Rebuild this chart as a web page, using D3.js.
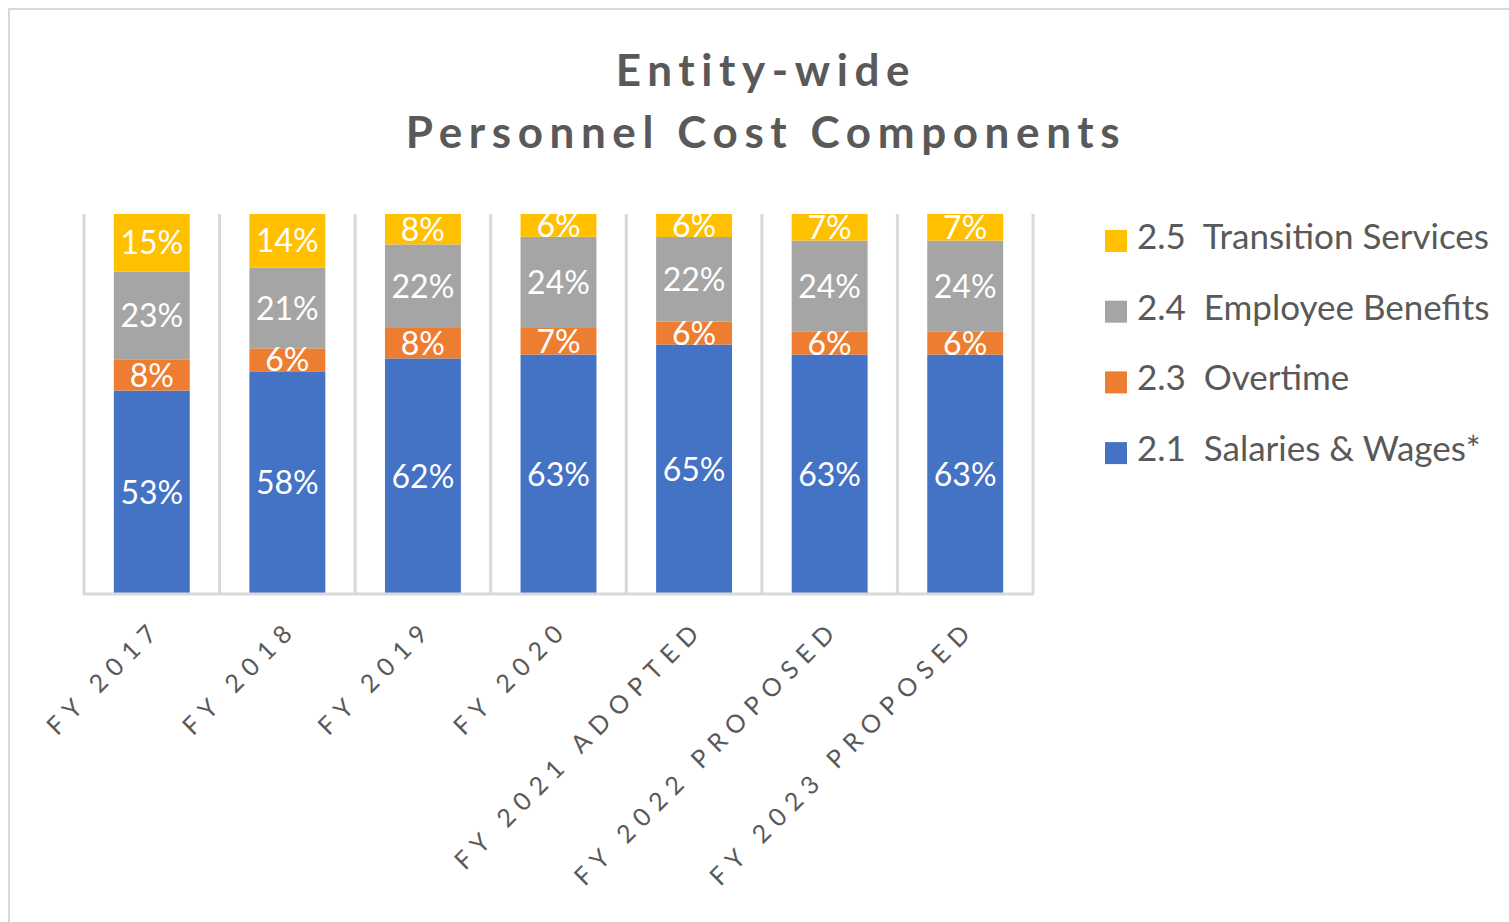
<!DOCTYPE html>
<meta charset="utf-8">
<title>Entity-wide Personnel Cost Components</title>
<style>
body { margin: 0; background: #fff; }
text { font-family: Lato, "Open Sans", sans-serif; }
.grid line { stroke: #d9d9d9; stroke-width: 3; }
.tick-label { fill: #595959; font-size: 25px; letter-spacing: 8.2px; }
.seg-label { fill: #fff; font-size: 32px; }
.legend text { fill: #595959; font-size: 35px; white-space: pre; }
.title { fill: #595959; font-size: 44px; font-weight: bold; letter-spacing: 6.6px; }
</style>
<body>
<svg width="1509" height="922"></svg>
<script src="https://cdn.jsdelivr.net/npm/d3@7"></script>
<script>

var categories = ["FY 2017", "FY 2018", "FY 2019", "FY 2020", "FY 2021 ADOPTED", "FY 2022 PROPOSED", "FY 2023 PROPOSED"];
var seriesNames = ["2.1  Salaries & Wages*", "2.3  Overtime", "2.4  Employee Benefits", "2.5  Transition Services"];
var salaries   = [53, 58, 62, 63, 65, 63, 63];
var overtime   = [8, 6, 8, 7, 6, 6, 6];
var benefits   = [23, 21, 22, 24, 22, 24, 24];
var transition = [15, 14, 8, 6, 6, 7, 7];
var colors = ["#4472c4", "#ed7d31", "#a5a5a5", "#ffc000"];

var keys = ["salaries", "overtime", "benefits", "transition"];
var rows = categories.map(function(c, i) {
  return {cat: c, salaries: salaries[i], overtime: overtime[i], benefits: benefits[i], transition: transition[i]};
});

var svg = d3.select("svg");

// chart frame
svg.append("rect")
    .attr("x", 9).attr("y", 9)
    .attr("width", 1560).attr("height", 960)
    .attr("fill", "none")
    .attr("stroke", "#d9d9d9")
    .attr("stroke-width", 2);

var plot = {left: 84, right: 1033, top: 214, bottom: 594};

var x = d3.scaleBand()
    .domain(categories)
    .range([plot.left, plot.right])
    .paddingInner(0.44)
    .paddingOuter(0.22);

var y = d3.scaleLinear().domain([0, 1]).range([plot.bottom, plot.top]);

var stack = d3.stack().keys(keys).offset(d3.stackOffsetExpand);
var layers = stack(rows);

// vertical gridlines between categories
var bounds = d3.range(categories.length + 1).map(function(i) { return plot.left + i * (plot.right - plot.left) / categories.length; });
svg.append("g").attr("class", "grid")
  .selectAll("line")
  .data(bounds)
  .enter().append("line")
    .attr("x1", function(d) { return d; })
    .attr("x2", function(d) { return d; })
    .attr("y1", plot.top)
    .attr("y2", plot.bottom);

svg.append("clipPath").attr("id", "plotclip")
  .append("rect")
    .attr("x", plot.left).attr("y", plot.top)
    .attr("width", plot.right - plot.left).attr("height", plot.bottom - plot.top);

var layerG = svg.append("g")
  .selectAll("g")
  .data(layers)
  .enter().append("g")
    .attr("fill", function(d, i) { return colors[i]; });

layerG.selectAll("rect")
  .data(function(d) { return d; })
  .enter().append("rect")
    .attr("x", function(d) { return x(d.data.cat); })
    .attr("y", function(d) { return y(d[1]); })
    .attr("width", x.bandwidth())
    .attr("height", function(d) { return y(d[0]) - y(d[1]); });

// segment labels
var labelG = svg.append("g").attr("clip-path", "url(#plotclip)");
layers.forEach(function(layer) {
  labelG.selectAll(null)
    .data(layer)
    .enter().append("text")
      .attr("class", "seg-label")
      .attr("x", function(d) { return x(d.data.cat) + x.bandwidth() / 2; })
      .attr("y", function(d) { return (y(d[0]) + y(d[1])) / 2; })
      .attr("dy", "0.36em")
      .attr("text-anchor", "middle")
      .text(function(d) { return d.data[layer.key] + "%"; });
});

// axis baseline
svg.append("line")
    .attr("x1", plot.left - 1).attr("x2", plot.right + 1)
    .attr("y1", plot.bottom).attr("y2", plot.bottom)
    .attr("stroke", "#d9d9d9").attr("stroke-width", 3);

// rotated category labels
svg.append("g")
  .selectAll("text")
  .data(categories)
  .enter().append("text")
    .attr("class", "tick-label")
    .attr("text-anchor", "end")
    .attr("transform", function(d) {
      return "translate(" + (x(d) + x.bandwidth() / 2 + 12) + "," + (plot.bottom + 36) + ") rotate(-45)";
    })
    .text(function(d) { return d; });

// title
var title = svg.append("text")
    .attr("class", "title")
    .attr("text-anchor", "middle");
title.append("tspan").attr("x", 766).attr("y", 86).text("Entity-wide");
title.append("tspan").attr("x", 766).attr("y", 148).text("Personnel Cost Components");

// legend, top entry is the last series
var legendOrder = [3, 2, 1, 0];
var legend = svg.append("g").attr("class", "legend")
  .selectAll("g")
  .data(legendOrder)
  .enter().append("g")
    .attr("transform", function(d, i) { return "translate(1105," + (230 + i * 70.7) + ")"; });

legend.append("rect")
    .attr("width", 22).attr("height", 22)
    .attr("fill", function(d) { return colors[d]; });

legend.append("text")
    .attr("x", 32)
    .attr("y", 19)
    .text(function(d) { return seriesNames[d]; });

</script>
</body>
